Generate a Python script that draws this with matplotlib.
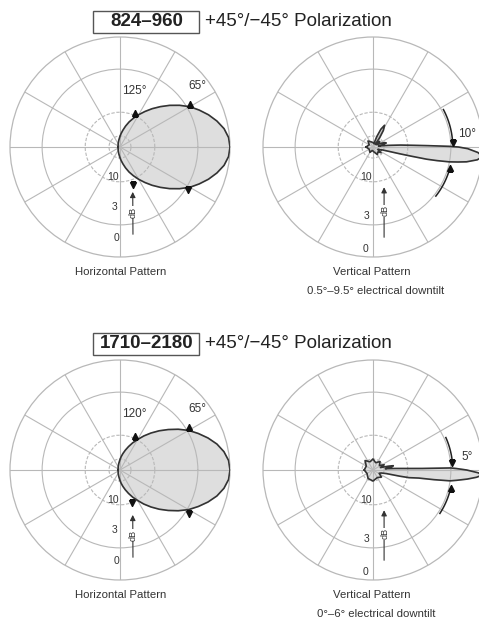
import numpy as np
import matplotlib.pyplot as plt
from matplotlib.patches import Rectangle

plt.rcParams['font.family'] = ['Liberation Sans', 'DejaVu Sans']

# ---- data (angle in deg, level in dB) ----
# 824-960 horizontal pattern (symmetric, one half given)
h1_ang = [0, 5, 10, 15, 20, 25, 30, 35, 40, 45, 50, 55, 60, 65, 70, 75, 80, 85, 90,
          100, 110, 120, 135, 150, 165, 180]
h1_db = [0, -0.08, -0.35, -0.8, -1.35, -2.0, -2.7, -3.6, -4.6, -5.7, -6.85, -8.1, -9.4, -10.8,
         -12.3, -14.1, -16.1, -18.1, -20.2, -24, -27.2, -29.7, -32.3, -34, -34.8, -35]

# 1710-2180 horizontal pattern (symmetric, one half given)
h2_ang = [0, 5, 10, 15, 20, 25, 30, 35, 40, 45, 50, 55, 60, 65, 70, 75, 80, 85, 90,
          100, 110, 120, 135, 150, 165, 180]
h2_db = [0, -0.08, -0.36, -0.8, -1.4, -2.1, -2.85, -3.8, -4.85, -5.95, -7.15, -8.45, -9.9, -11.3,
         -12.9, -14.6, -16.4, -18.3, -20.4, -24.2, -27.4, -29.8, -32.4, -34, -34.8, -35]

# 824-960 vertical pattern
v1_ang = [-180, -150, -120, -100, -80, -60, -45, -35, -28, -23, -20, -18, -15.5, -14.2, -13.5,
          -12.8, -12, -11, -10, -9, -7, -5, -3, -1, 0, 0.5, 1.4, 2.5, 4, 6, 8, 10, 13, 17, 21,
          26, 32, 40, 46, 50, 54, 58, 62, 66, 70, 75, 90, 110, 130, 150, 180]
v1_db = [-24, -28, -25, -30, -27, -22, -24, -21, -26, -26, -22, -22, -17, -12, -9,
         -6, -4.5, -3, -2.1, -1.3, -0.4, 0, -0.4, -1.3, -2.2, -3.2, -6, -9, -12, -17, -22, -26, -21, -18, -19,
         -23, -28, -22, -26, -30, -20, -15, -13, -15, -20, -30, -28, -26, -23, -28, -24]

# 1710-2180 vertical pattern
v2_ang = [-180, -150, -120, -90, -60, -40, -28, -20, -15, -13, -12, -10, -9, -8,
          -7, -5.5, -4, -2.5, -1.5, 0, 1, 1.5, 1.8, 2.5, 4, 6, 8, 10, 12, 14, 18, 25,
          35, 50, 70, 90, 110, 130, 150, 180]
v2_db = [-22, -24, -21, -20, -22, -20, -24, -22, -18, -12, -9.5, -7.5, -5, -3,
         -2.3, -1.3, -0.5, 0, -0.4, -1.4, -2.4, -3, -7, -10, -14, -19, -17, -15, -14.5, -17, -23, -19,
         -23, -20, -23, -20, -22, -19, -23, -22]

ring_db = [-20, -10, -3]
ring_lbl = ['10', '3', '0']

# beamwidth markers (angle deg, amplitude)
h1_mk_ang = [31.6, -32.2, 66, -70.7]
h1_mk_r = [0.745, 0.73, 0.335, 0.366]
h2_mk_ang = [32, -32.4, 66.4, -69.7]
h2_mk_r = [0.74, 0.74, 0.34, 0.323]
v1_mk_ang = [3.1, -15.6]
v2_mk_ang = [4.8, -12.8]

GRID = '#b8b8b8'
INK = '#333333'
FILL = '#dedede'


def amp(db):
    return 10 ** (np.asarray(db, dtype=float) / 20.0)


def px_rect(cx, cy, R=110):
    return [(cx - R) / 479, (621 - cy - R) / 621, 2 * R / 479, 2 * R / 621]


def polar_base(rect):
    ax = fig.add_axes(rect, projection='polar')
    ax.set_ylim(0, 1)
    ax.set_rticks(amp(ring_db))
    ax.set_thetagrids(np.arange(0, 360, 30))
    ax.set_xticklabels([])
    ax.set_yticklabels([])
    ax.grid(True, color=GRID, lw=0.8)
    gl = ax.yaxis.get_gridlines()
    gl[0].set_linestyle((0, (3, 1.5)))
    gl[1].set_linestyle((0, (3, 1.5)))
    ax.spines['polar'].set_color(GRID)
    ax.spines['polar'].set_linewidth(0.9)
    ax.set_axisbelow(False)
    return ax


def draw_pattern(ax, ang, db):
    th = np.deg2rad(np.r_[ang, ang[0]])
    r = amp(np.r_[db, db[0]])
    ax.fill(th, r, color=FILL, zorder=1)
    ax.plot(th, r, color=INK, lw=1.2, zorder=3)


def db_arrow(ax, base, tip, txt):
    ax.annotate('', xy=(np.deg2rad(tip[0]), tip[1]), xytext=(np.deg2rad(base[0]), base[1]),
                arrowprops=dict(arrowstyle='-|>', color=INK, lw=0.8, mutation_scale=8), zorder=4)
    ax.text(np.deg2rad(txt[0]), txt[1], 'dB', rotation=90, fontsize=6.5, color=INK,
            ha='center', va='center', bbox=dict(fc='white', ec='none', pad=0.5), zorder=5)


def ring_labels(ax, pos):
    for (a, r), s in zip(pos, ring_lbl):
        ax.text(np.deg2rad(a), r, s, fontsize=7.5, color=INK, ha='center', va='center', zorder=5)


fig = plt.figure(figsize=(4.79, 6.21), dpi=100)

# ---- titles ----
for y, lab in [(22, '824–960'), (344, '1710–2180')]:
    fig.text(146.5 / 479, 1 - y / 621, lab, fontsize=13.5, weight='bold', color='#222',
             ha='center', va='center')
    fig.text(205 / 479, 1 - y / 621, '+45°/−45° Polarization', fontsize=13.5, color='#222',
             ha='left', va='center')
    fig.patches.append(Rectangle((93 / 479, 1 - (y + 11) / 621), 106 / 479, 22 / 621,
                                 transform=fig.transFigure, fill=False, ec='#555', lw=1))

# ---- horizontal patterns ----
for cy, h_ang, h_db, mk_a, mk_r, bw in [(147, h1_ang, h1_db, h1_mk_ang, h1_mk_r, '125°'),
                                       (470, h2_ang, h2_db, h2_mk_ang, h2_mk_r, '120°')]:
    ax = polar_base(px_rect(120, cy))
    full_ang = [-a for a in h_ang[::-1]] + h_ang[1:]
    full_db = h_db[::-1] + h_db[1:]
    draw_pattern(ax, full_ang, full_db)
    mk = ['^', 'v', '^', 'v']
    for a, r, m in zip(mk_a, mk_r, mk):
        ax.plot(np.deg2rad(a), r, marker=m, ms=4.5, color='#111', zorder=6)
    ax.text(np.deg2rad(76), 0.52, bw, fontsize=8.5, color=INK, ha='center', va='center')
    ax.text(np.deg2rad(38.5), 0.895, '65°', fontsize=8.5, color=INK, ha='center', va='center')
    ring_labels(ax, [(-103.8, 0.278), (-94.8, 0.545), (-92, 0.83)])
    db_arrow(ax, (-81.8, 0.827), (-73.2, 0.40), (-78.7, 0.603))
    fig.text(120.5 / 479, 1 - (cy + 125.5) / 621, 'Horizontal Pattern', fontsize=8.2, color=INK,
             ha='center', va='center')

# ---- vertical patterns ----
for cy, v_ang, v_db, mk_a, bw, tilt, arcs in [
        (147, v1_ang, v1_db, v1_mk_ang, '10°', '0.5°–9.5° electrical downtilt', [(3.1, 28), (-15.6, -38)]),
        (470, v2_ang, v2_db, v2_mk_ang, '5°', '0°–6° electrical downtilt', [(4.8, 24), (-12.8, -33)])]:
    ax = polar_base(px_rect(373, cy))
    draw_pattern(ax, v_ang, v_db)
    for a0, a1 in arcs:
        th = np.deg2rad(np.linspace(a0, a1, 30))
        ax.plot(th, np.full_like(th, 0.725), color='#222', lw=1.1, zorder=5)
    ax.plot(np.deg2rad(mk_a[0]), 0.725, marker='v', ms=5, color='#111', zorder=6)
    ax.plot(np.deg2rad(mk_a[1]), 0.725, marker='^', ms=5, color='#111', zorder=6)
    ax.text(np.deg2rad(8), 0.86, bw, fontsize=8.5, color=INK, ha='center', va='center')
    ring_labels(ax, [(-103, 0.28), (-95.5, 0.63), (-94, 0.93)])
    db_arrow(ax, (-83.2, 0.852), (-73.5, 0.355), (-79.5, 0.59))
    fig.text(372 / 479, 1 - (cy + 125.5) / 621, 'Vertical Pattern', fontsize=8.2, color=INK,
             ha='center', va='center')
    fig.text(376 / 479, 1 - (cy + 144) / 621, tilt, fontsize=8.2, color=INK,
             ha='center', va='center')

fig.savefig('out.png', dpi=100)
